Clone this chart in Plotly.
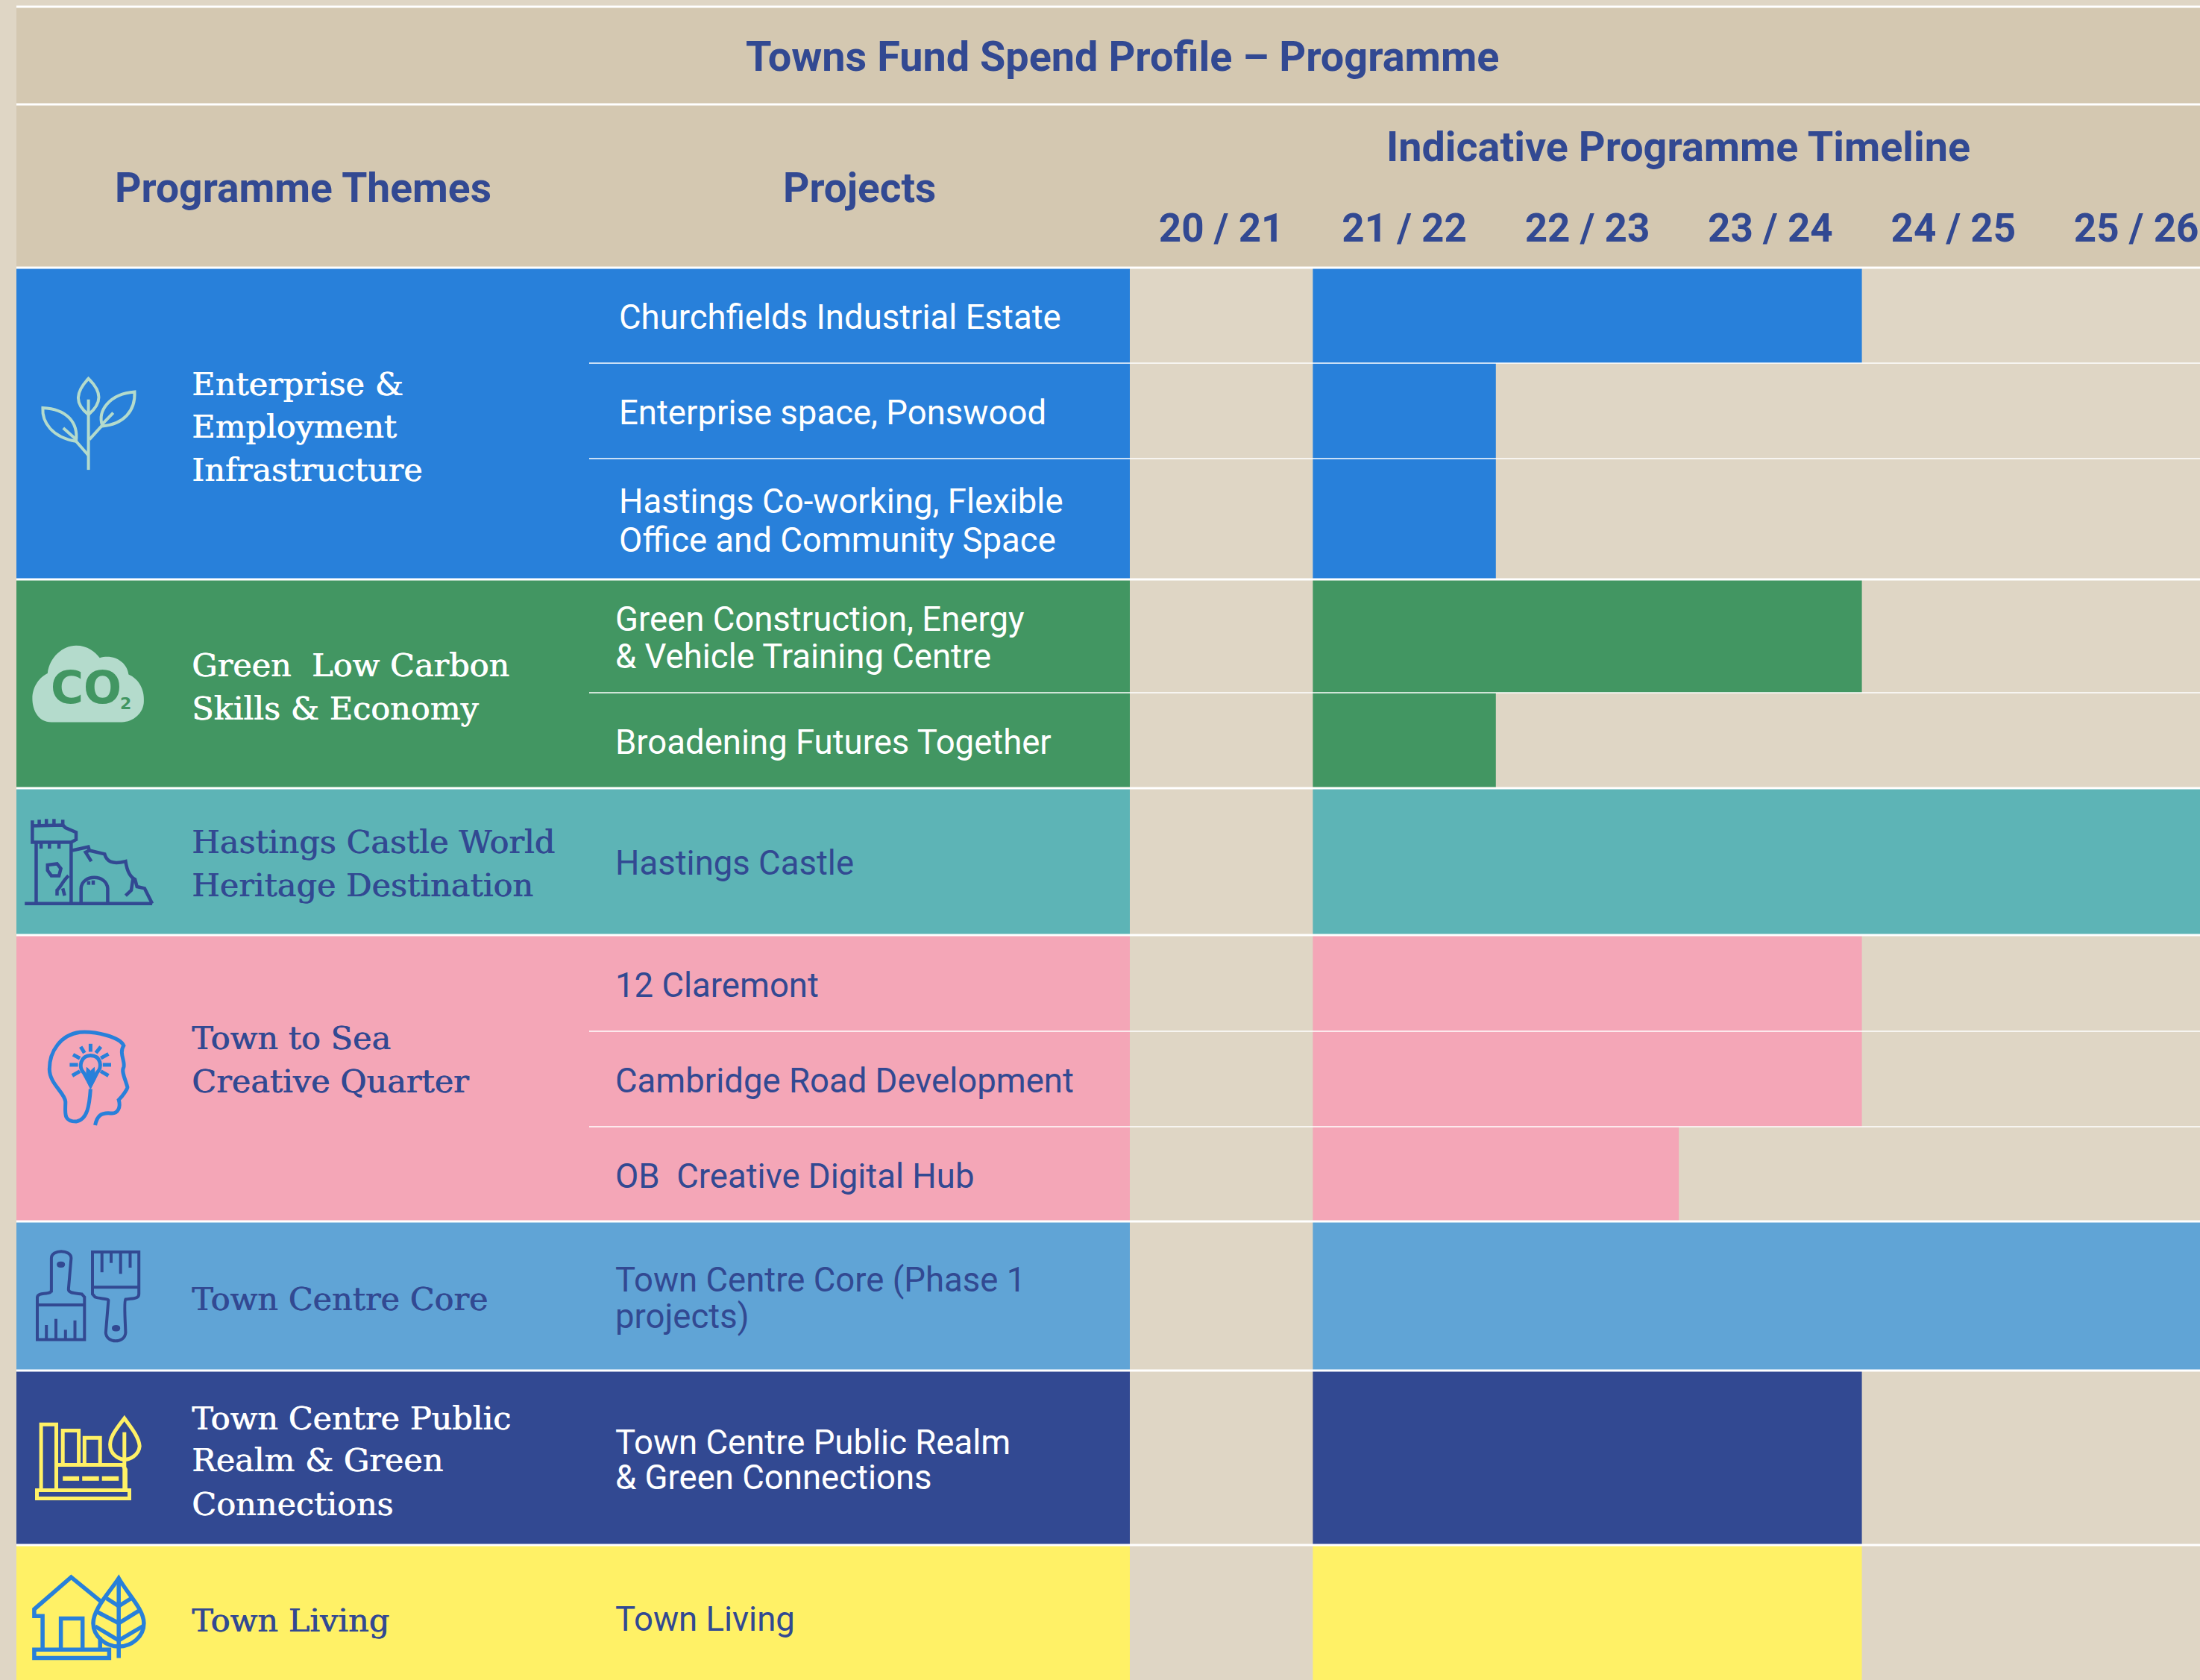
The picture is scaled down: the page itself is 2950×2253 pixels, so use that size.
import re
import plotly.graph_objects as go

# ---------- data ----------
years = ["20 / 21", "21 / 22", "22 / 23", "23 / 24", "24 / 25", "25 / 26"]
projects = ["Churchfields Industrial Estate", "Enterprise space, Ponswood",
            "Hastings Co-working, Flexible Office and Community Space",
            "Green Construction, Energy & Vehicle Training Centre", "Broadening Futures Together",
            "Hastings Castle", "12 Claremont", "Cambridge Road Development", "OB Creative Digital Hub",
            "Town Centre Core (Phase 1 projects)", "Town Centre Public Realm & Green Connections", "Town Living"]
start_year = [1, 1, 1, 1, 1, 1, 1, 1, 1, 1, 1, 1]
duration_years = [3, 1, 1, 3, 1, 5, 3, 3, 2, 5, 3, 3]
themes = ["Enterprise & Employment Infrastructure", "Green Low Carbon Skills & Economy",
          "Hastings Castle World Heritage Destination", "Town to Sea Creative Quarter",
          "Town Centre Core", "Town Centre Public Realm & Green Connections", "Town Living"]
projects_per_theme = [3, 2, 1, 3, 1, 1, 1]

# ---------- styles / layout ----------
W, H = 2950, 2253
NAVY = "#324992"; BLUE = "#2880DA"; GREEN = "#429662"; TEAL = "#5DB4B6"; PINK = "#F4A6B7"
CORE = "#60A4D6"; YELLOW = "#FFF166"; CREAM = "#DFD6C5"; HEAD = "#D4C8B1"; MINT = "#B4DBCC"
theme_colors = [BLUE, GREEN, TEAL, PINK, CORE, NAVY, YELLOW]
row_edges = [359, 487, 615, 777, 929, 1057, 1254, 1383, 1511, 1638, 1838, 2072, 2253]
X0, CW, LEFT = 1515, 245.4, 22
HEAD_FONT = "Roboto"; BODY_FONT = "Roboto"; SERIF = "DejaVu Serif"

row_colors, theme_mid, theme_hi, i = [], [], [], 0
for n, c in zip(projects_per_theme, theme_colors):
    row_colors += [c] * n
    theme_mid.append((row_edges[i] + row_edges[i + n]) / 2)
    theme_hi.append(row_edges[i + n] - row_edges[i])
    i += n
centres = [(a + b) / 2 for a, b in zip(row_edges, row_edges[1:])]
heights = [b - a for a, b in zip(row_edges, row_edges[1:])]
left_yrs = (LEFT - X0) / CW

fig = go.Figure()
fig.add_trace(go.Bar(y=theme_mid, x=[-left_yrs] * len(themes), base=left_yrs, width=theme_hi, orientation="h",
                     marker=dict(color=theme_colors, line_width=0), name="Themes", text=themes,
                     textposition="none", hoverinfo="text"))
fig.add_trace(go.Bar(y=centres, x=duration_years, base=start_year, width=heights, orientation="h",
                     marker=dict(color=row_colors, line_width=0), name="Projects", text=projects,
                     textposition="none", hoverinfo="text"))
fig.add_trace(go.Scatter(x=[None], y=[None], xaxis="x2", yaxis="y2", showlegend=False))

shapes = []
shapes.append(dict(type="rect", xref="paper", yref="paper", x0=LEFT / W, x1=1, y0=1 - 359 / H, y1=1 - 9 / H,
                   fillcolor=HEAD, line_width=0, layer="below"))
def hline(y, x0, w):
    shapes.append(dict(type="line", xref="x2", yref="y2", x0=x0, x1=W, y0=y, y1=y,
                       line=dict(color="white", width=w), layer="above"))
for y in [9, 140, 359, 777, 1057, 1254, 1638, 1838, 2072]:
    hline(y, LEFT, 3)
for y in [487, 615, 929, 1383, 1511]:
    hline(y, 790, 1.5)

def icon(path, ox, oy, sx, sy, color, width=4.5, fill=None):
    toks = re.findall(r"[A-Z]|-?\d+\.?\d*", path)
    out, k = [], 0
    for t in toks:
        if t.isalpha():
            out.append(t)
        else:
            v = (float(t) / sx + ox) if k % 2 == 0 else (float(t) / sy + oy)
            out.append(f"{v:.1f}")
            k += 1
    shapes.append(dict(type="path", xref="x2", yref="y2", path=" ".join(out), layer="above",
                       line=dict(color=color, width=width) if width else dict(width=0),
                       fillcolor=fill if fill else "rgba(0,0,0,0)"))

def circ(cx, cy, r):
    return f"M{cx-r} {cy} C{cx-r} {cy-r} {cx+r} {cy-r} {cx+r} {cy} C{cx+r} {cy+r} {cx-r} {cy+r} {cx-r} {cy} Z"

Z1 = (0, 0, 1.568, 1.96); Z2 = (0, 760, 1.96, 2.063); Z3 = (0, 1600, 1.96, 2.401)
# plant
for p in ["M186 995 C160 1030 155 1060 186 1090 C215 1060 215 1030 186 995 Z", "M186 1050 L186 1235",
          "M188 1155 L215 1118", "M215 1118 C205 1080 230 1035 283 1030 C285 1080 260 1115 215 1120 Z",
          "M215 1115 L238 1085", "M186 1197 L160 1160",
          "M160 1160 C110 1150 88 1110 90 1072 C140 1075 165 1110 160 1160 Z", "M160 1155 L133 1125"]:
    icon(p, *Z1, MINT, 4)
# cloud
icon("M135 430 C100 430 85 395 85 365 C85 330 105 305 125 295 C130 250 165 218 200 218 C230 218 250 235 262 252 "
     "C300 240 335 265 338 298 C365 310 380 340 378 372 C378 405 350 430 320 430 Z", *Z2, MINT, 0, MINT)
# castle
for p in ["M65 932 L400 932", "M95 765 L95 932", "M187 765 L187 932",
          "M85 702 L85 762 L187 762 L200 755 L200 735 L172 722 L165 715 L85 717",
          "M103 700 L103 717", "M122 698 L122 717", "M142 698 L142 717", "M165 700 L165 715",
          "M108 765 L108 780", "M130 765 L130 780", "M155 765 L155 780",
          "M125 825 L150 822 L160 835 L155 855 L135 855 L125 840 Z",
          "M180 855 C165 870 160 885 150 895 L150 910", "M165 890 L170 910",
          "M190 785 L232 775 L235 785 L275 795 C280 815 295 825 330 815 C335 850 345 860 355 865 L360 885 L380 890 L400 932",
          "M235 785 L225 790 L240 815", "M350 860 L345 895 L330 910",
          "M213 932 L213 890 C215 850 280 850 283 890 L283 932", "M233 870 L233 880", "M245 868 L245 880"]:
    icon(p, *Z2, NAVY, 4.5)
# head
for p in ["M250 1545 C255 1520 265 1510 290 1512 C310 1515 318 1495 312 1475 C322 1465 335 1445 335 1440 "
          "C330 1420 318 1395 325 1385 C330 1370 312 1345 325 1325 C315 1300 250 1285 210 1288 "
          "C160 1295 130 1340 130 1390 C130 1430 170 1455 172 1480 C172 1510 165 1535 200 1535 C230 1530 235 1490 238 1445",
          "M238 1352 C265 1352 270 1385 255 1400 L248 1415 L228 1415 L220 1400 C205 1385 212 1352 238 1352 Z",
          "M238 1320 L238 1342", "M212 1328 L222 1345", "M192 1350 L210 1360", "M183 1378 L205 1378",
          "M190 1408 L210 1396", "M265 1328 L252 1345", "M285 1348 L265 1360", "M292 1378 L270 1378", "M285 1408 L265 1396"]:
    icon(p, *Z2, BLUE, 5)
icon("M238 1445 L226 1420 L228 1385 L238 1395 L248 1385 L250 1420 Z", *Z2, BLUE, 1, BLUE)
# brushes
for p in ["M135 320 L135 210 C135 180 187 180 187 210 L180 310 C180 322 195 322 215 325 L222 335 L222 472 L98 472 L98 335 "
          "C100 322 115 325 125 322 C132 320 135 320 135 310", "M98 360 L222 360", circ(160, 230, 7),
          "M122 425 L122 472", "M147 405 L147 472", "M172 440 L172 472", "M197 410 L197 472",
          "M243 190 L365 190 L365 325 C365 340 350 340 330 342 C325 350 330 430 330 450 C328 485 280 485 278 450 "
          "L285 345 C285 340 260 340 250 335 L243 325 Z", "M243 303 L365 303", circ(305, 435, 7),
          "M268 190 L268 255", "M292 190 L292 225", "M317 190 L317 260", "M342 190 L342 240"]:
    icon(p, *Z3, NAVY, 4)
# factory
for p in ["M97 957 L340 957 L340 983 L97 983 Z", "M108 957 L108 745 L148 745 L148 957", "M165 875 L165 765 L207 765 L207 875",
          "M222 875 L222 788 L263 788 L263 875", "M150 875 L322 875 L330 890 L330 957",
          "M327 725 C305 760 285 790 290 820 C295 850 320 858 327 858 C340 858 365 845 367 815 C365 785 345 755 327 725 Z",
          "M327 770 L327 957"]:
    icon(p, *Z3, YELLOW, 5)
for p in ["M165 919 L208 919", "M216 919 L260 919", "M268 919 L312 919"]:
    icon(p, *Z3, YELLOW, 6)
# house + tree
for p in ["M265 1315 L187 1237 L90 1340 L90 1362 L112 1362 L112 1470", "M160 1470 L160 1370 L217 1370 L217 1470",
          "M90 1470 L287 1470 L287 1497 L90 1497 Z", "M263 1430 L263 1470",
          "M312 1240 C285 1290 245 1340 245 1385 C245 1430 280 1460 312 1460 C345 1460 378 1430 378 1385 C378 1340 335 1290 312 1240 Z",
          "M312 1240 L312 1497", "M312 1330 L280 1305", "M312 1330 L345 1305", "M312 1385 L250 1345", "M312 1385 L365 1345",
          "M312 1440 L250 1395", "M312 1440 L375 1395"]:
    icon(p, *Z3, BLUE, 5.5)

annos = []
def txt(s, x, y, size, color, font, anchor="left", weight=400, shadow=None):
    f = dict(family=font, size=size, color=color, weight=weight)
    if shadow:
        f["shadow"] = shadow
    annos.append(dict(text=s, x=x, y=y, xref="x2", yref="y2", xanchor=anchor, yanchor="middle", showarrow=False,
                      align=anchor, font=f))

# headers
txt("Towns Fund Spend Profile – Programme", 1505, 76, 55.8, NAVY, HEAD_FONT, "center", 700)
txt("Programme Themes", 406, 252, 55.2, NAVY, HEAD_FONT, "center", 700)
txt("Projects", 1152, 252, 55, NAVY, HEAD_FONT, "center", 700)
txt("Indicative Programme Timeline", 2250, 197, 55.7, NAVY, HEAD_FONT, "center", 700)
# icon text
txt("CO", 115, 922, 60, GREEN, "DejaVu Sans", "center", 700)
txt("2", 168, 943, 22, GREEN, "DejaVu Sans", "center", 700)
# theme labels
TS = 43
for s, y, c in [("Enterprise &", 515, "white"), ("Employment", 572, "white"), ("Infrastructure", 630, "white"),
                ("Green\u00a0 Low Carbon", 892, "white"), ("Skills & Economy", 950, "white"),
                ("Hastings Castle World", 1129, NAVY), ("Heritage Destination", 1187, NAVY),
                ("Town to Sea", 1392, NAVY), ("Creative Quarter", 1450, NAVY),
                ("Town Centre Core", 1742, NAVY),
                ("Town Centre Public", 1902, "white"), ("Realm & Green", 1958, "white"), ("Connections", 2017, "white"),
                ("Town Living", 2173, NAVY)]:
    txt(s, 255, y, TS, c, SERIF, shadow=f"0.8px 0 0 {c}")
# project labels
PS = 45.5
for s, x, y, c in [("Churchfields Industrial Estate", 828, 425, "white"), ("Enterprise space, Ponswood", 828, 553, "white"),
                   ("Hastings Co-working, Flexible", 828, 672, "white"), ("Office and Community Space", 828, 724, "white"),
                   ("Green Construction, Energy", 823, 830, "white"), ("& Vehicle Training Centre", 823, 880, "white"),
                   ("Broadening Futures Together", 823, 995, "white"), ("Hastings Castle", 823, 1157, NAVY),
                   ("12 Claremont", 823, 1321, NAVY), ("Cambridge Road Development", 823, 1449, NAVY),
                   ("OB\u00a0 Creative Digital Hub", 823, 1577, NAVY), ("Town Centre Core (Phase 1", 823, 1716, NAVY),
                   ("projects)", 823, 1765, NAVY), ("Town Centre Public Realm", 823, 1934, "white"),
                   ("& Green Connections", 823, 1981, "white"), ("Town Living", 823, 2171, NAVY)]:
    txt(s, x, y, PS, c, BODY_FONT)

hidden = dict(visible=False, showgrid=False, zeroline=False)
fig.update_layout(
    width=W, height=H, margin=dict(l=0, r=0, t=0, b=0), showlegend=False, barmode="overlay",
    paper_bgcolor=CREAM, plot_bgcolor="rgba(0,0,0,0)", shapes=shapes, annotations=annos,
    xaxis=dict(domain=[0, 1], range=[(0 - X0) / CW, (W - X0) / CW], side="top", anchor="y",
               tickmode="array", tickvals=[k + 0.5 for k in range(len(years))], ticktext=years,
               tickfont=dict(family=HEAD_FONT, size=53, color=NAVY, weight=700),
               ticks="outside", ticklen=13, tickcolor="rgba(0,0,0,0)", showgrid=False, zeroline=False, showline=False),
    yaxis=dict(domain=[0, (H - 359) / H], range=[H, 359], anchor="x", visible=False, showgrid=False, zeroline=False),
    xaxis2=dict(domain=[0, 1], range=[0, W], anchor="y2", **hidden),
    yaxis2=dict(domain=[0, 1], range=[H, 0], anchor="x2", **hidden),
)
fig.write_html("out.html", config=dict(displayModeBar=False),
               post_script="document.body.style.margin='0';document.body.style.overflow='hidden';")
